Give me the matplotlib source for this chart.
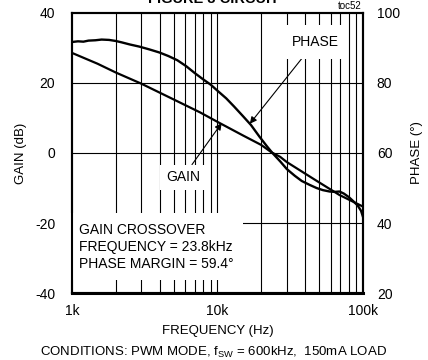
import numpy as np
import matplotlib
matplotlib.use("Agg")
import matplotlib.pyplot as plt

plt.rcParams["font.family"] = ["Liberation Sans", "DejaVu Sans"]
plt.rcParams["mathtext.fontset"] = "custom"
plt.rcParams["mathtext.rm"] = "Liberation Sans"
plt.rcParams["mathtext.it"] = "Liberation Sans"
plt.rcParams["axes.unicode_minus"] = False

# gain curve (dB) vs frequency (Hz)
gain_freq = [1000, 1500, 2000, 3000, 5000, 7600, 10000, 15000, 20000, 23500, 27000, 30000,
             47000, 69000, 100000]
gain_db = [28.6, 25.5, 23.0, 19.8, 15.3, 11.6, 8.9, 5.0, 2.3, 0.2, -1.1, -2.6,
           -7.7, -12.0, -15.3]

# phase curve (degrees) vs frequency (Hz)
phase_freq = [1000, 1100, 1200, 1300, 1450, 1600, 1800, 2000, 2200, 2500, 2900, 3400,
              4000, 4600, 5300, 6100, 7000, 8000, 9000, 10000, 11500, 13000, 15000,
              17000, 19500, 22000, 24000, 27000, 30000, 34000, 38000, 43000, 48000,
              53000, 59000, 64000, 69000, 74000, 80000, 86000, 92000, 97000, 100000]
phase_deg = [91.7, 91.9, 91.8, 92.1, 92.2, 92.4, 92.3, 92.0, 91.6, 91.0, 90.4, 89.6,
             88.7, 87.7, 86.5, 84.8, 82.8, 81.0, 79.5, 77.8, 75.6, 73.3, 70.5,
             68.0, 64.6, 61.8, 59.9, 57.6, 55.4, 53.5, 52.0, 50.9, 50.0,
             49.4, 49.0, 48.9, 49.0, 48.4, 47.4, 46.2, 45.0, 43.5, 41.8]

gain_ticks = [-40, -20, 0, 20, 40]
phase_ticks = [20, 40, 60, 80, 100]
freq_ticks = [1000, 10000, 100000]
freq_labels = ["1k", "10k", "100k"]

fig = plt.figure(figsize=(4.28, 3.6), dpi=100)
ax = fig.add_axes([0.168, 0.186, 0.680, 0.778])
ax2 = ax.twinx()

ax.set_xscale("log")
ax.set_xlim(1000, 100000)
ax.set_ylim(-40, 40)
ax2.set_ylim(20, 100)

# grid
for dec in [1000, 10000]:
    for m in range(2, 10):
        ax.axvline(dec * m, color="black", lw=0.8, zorder=1)
ax.axvline(10000, color="black", lw=0.8, zorder=1)
for g in [-20, 0, 20]:
    ax.axhline(g, color="black", lw=0.8, zorder=1)

ax.plot(gain_freq, gain_db, color="black", lw=1.6, zorder=3)
# phase drawn on the gain axis (phase axis is gain + 60)
phase_on_gain = np.array(phase_deg) - 60
ax.plot(phase_freq, phase_on_gain, color="black", lw=1.7, zorder=3)

ax.set_xticks(freq_ticks)
ax.set_xticklabels(freq_labels)
ax.xaxis.set_minor_locator(matplotlib.ticker.NullLocator())
ax.set_yticks(gain_ticks)
ax2.set_yticks(phase_ticks)
ax.tick_params(length=0, labelsize=10)
ax.tick_params(axis="y", pad=12)
ax.tick_params(axis="x", pad=8)
ax2.tick_params(length=0, labelsize=10, pad=10)

for a in (ax, ax2):
    for s in a.spines.values():
        s.set_linewidth(1.5)
ax.spines["bottom"].set_linewidth(2.2)

ax.set_xlabel("FREQUENCY (Hz)", fontsize=9.5, labelpad=5)
ax.set_ylabel("GAIN (dB)", fontsize=9.5, labelpad=6)
ax2.set_ylabel("PHASE (\u00b0)", fontsize=9.5, labelpad=8)

# labels with arrows
arrow = dict(arrowstyle="-|>", color="black", lw=0.8, mutation_scale=10, shrinkA=0, shrinkB=0)
ptip = 16700
ax.annotate("PHASE", xy=(ptip, np.interp(np.log10(ptip), np.log10(phase_freq), phase_on_gain)),
            xytext=(46800, 31.7), ha="center", va="center", fontsize=10,
            bbox=dict(facecolor="white", edgecolor="none", pad=7),
            arrowprops=arrow, zorder=4)
gtip = 10700
ax.annotate("GAIN", xy=(gtip, np.interp(np.log10(gtip), np.log10(gain_freq), gain_db) + 0.3),
            xytext=(5800, -6.9), ha="center", va="center", fontsize=10,
            bbox=dict(facecolor="white", edgecolor="none", pad=4),
            arrowprops=arrow, zorder=4)

ax.text(1120, -26.8, "GAIN CROSSOVER\nFREQUENCY = 23.8kHz\nPHASE MARGIN = 59.4\u00b0",
        ha="left", va="center", fontsize=10, linespacing=1.25,
        bbox=dict(facecolor="white", edgecolor="none", pad=7), zorder=4)

fig.text(213 / 428, 1 - 3 / 360, "FIGURE 3 CIRCUIT", ha="center", va="baseline",
         fontsize=10.5, fontweight="bold")
fig.text(362 / 428, 1 - 9 / 360, "toc52", ha="right", va="baseline", fontsize=7)
fig.text(0.5, 1 - 356 / 360, "CONDITIONS: PWM MODE, f$_{\\mathrm{SW}}$ = 600kHz,  150mA LOAD",
         ha="center", va="baseline", fontsize=9.5)

fig.savefig("out.png", dpi=100)
